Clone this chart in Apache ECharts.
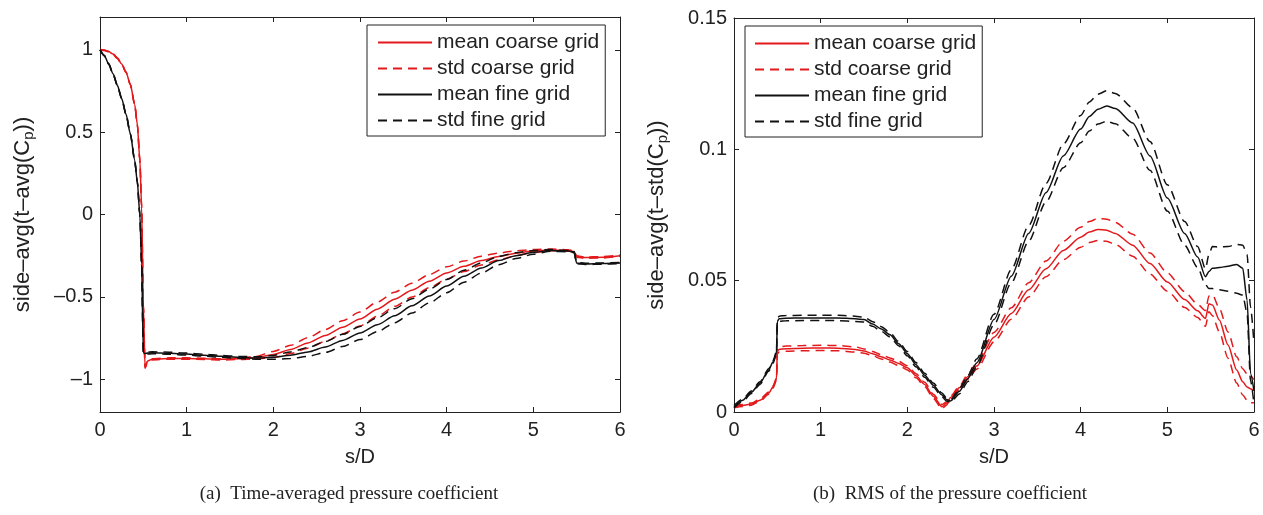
<!DOCTYPE html>
<html><head><meta charset="utf-8">
<script src="https://cdn.jsdelivr.net/npm/echarts@6/dist/echarts.min.js"></script>
<style>html,body{margin:0;padding:0;background:#fff}#c{width:1263px;height:515px}</style>
</head><body><div id="c"></div>
<script>
// ---- tick labels ----
const xTicks = [0, 1, 2, 3, 4, 5, 6];
const yTicksA = [-1, -0.5, 0, 0.5, 1];
const yTicksB = [0, 0.05, 0.1, 0.15];
const legendNames = ['mean coarse grid', 'std coarse grid', 'mean fine grid', 'std fine grid'];

// ---- panel (a): time-averaged Cp ----
const sA = [0,0.05,0.1,0.15,0.2,0.25,0.3,0.35,0.4,0.43,0.46,0.48,0.5,0.52,0.55,0.6,0.8,1.0,1.2,1.4,1.6,1.8,2.0,2.2,2.4,2.6,2.8,3.0,3.2,3.4,3.6,3.8,4.0,4.2,4.4,4.6,4.8,5.0,5.2,5.4,5.47,5.5,5.6,5.8,6.0];
const meanCoarseA = [1.0,0.998,0.99,0.975,0.95,0.915,0.865,0.79,0.67,0.55,0.33,0.05,-0.55,-0.93,-0.89,-0.88,-0.875,-0.875,-0.877,-0.88,-0.877,-0.87,-0.85,-0.82,-0.78,-0.735,-0.685,-0.635,-0.575,-0.515,-0.46,-0.405,-0.355,-0.315,-0.28,-0.255,-0.235,-0.222,-0.215,-0.218,-0.225,-0.255,-0.262,-0.26,-0.25];
const stdCoarseUpperA = [1.002,1.0,0.992,0.977,0.952,0.917,0.867,0.792,0.672,0.552,0.332,0.052,-0.546,-0.926,-0.886,-0.876,-0.871,-0.871,-0.873,-0.876,-0.873,-0.862,-0.832,-0.795,-0.748,-0.699,-0.645,-0.593,-0.532,-0.472,-0.418,-0.365,-0.318,-0.283,-0.253,-0.234,-0.22,-0.213,-0.21,-0.214,-0.221,-0.251,-0.258,-0.256,-0.246];
const stdCoarseLowerA = [0.998,0.996,0.988,0.973,0.948,0.913,0.863,0.788,0.668,0.548,0.328,0.048,-0.554,-0.934,-0.894,-0.884,-0.879,-0.879,-0.881,-0.884,-0.881,-0.878,-0.868,-0.845,-0.812,-0.771,-0.725,-0.677,-0.618,-0.558,-0.502,-0.445,-0.392,-0.347,-0.307,-0.276,-0.25,-0.231,-0.22,-0.222,-0.229,-0.259,-0.266,-0.264,-0.254];
const meanFineA = [1.0,0.965,0.915,0.855,0.785,0.705,0.61,0.49,0.33,0.2,0.0,-0.3,-0.84,-0.845,-0.842,-0.84,-0.843,-0.848,-0.855,-0.862,-0.868,-0.872,-0.868,-0.855,-0.835,-0.805,-0.765,-0.72,-0.67,-0.615,-0.555,-0.495,-0.435,-0.375,-0.325,-0.28,-0.25,-0.23,-0.218,-0.222,-0.228,-0.295,-0.3,-0.298,-0.295];
const stdFineUpperA = [1.002,0.967,0.917,0.857,0.787,0.707,0.612,0.492,0.332,0.202,0.002,-0.298,-0.834,-0.839,-0.836,-0.834,-0.837,-0.842,-0.849,-0.856,-0.862,-0.865,-0.856,-0.835,-0.808,-0.772,-0.728,-0.68,-0.628,-0.572,-0.512,-0.453,-0.395,-0.339,-0.294,-0.255,-0.232,-0.219,-0.212,-0.218,-0.224,-0.291,-0.296,-0.294,-0.291];
const stdFineLowerA = [0.998,0.963,0.913,0.853,0.783,0.703,0.608,0.488,0.328,0.198,-0.002,-0.302,-0.846,-0.851,-0.848,-0.846,-0.849,-0.854,-0.861,-0.868,-0.874,-0.879,-0.88,-0.875,-0.862,-0.838,-0.802,-0.76,-0.712,-0.658,-0.598,-0.537,-0.475,-0.411,-0.356,-0.305,-0.268,-0.241,-0.224,-0.226,-0.232,-0.299,-0.304,-0.302,-0.299];

// ---- panel (b): RMS of Cp ----
const sB = [0,0.1,0.2,0.3,0.4,0.45,0.49,0.5,0.52,0.6,0.8,1.0,1.2,1.4,1.5,1.6,1.7,1.8,1.9,2.0,2.1,2.2,2.3,2.4,2.45,2.5,2.6,2.7,2.8,3.0,3.2,3.4,3.6,3.8,4.0,4.1,4.2,4.3,4.4,4.6,4.8,5.0,5.2,5.35,5.44,5.48,5.52,5.6,5.7,5.8,5.87,5.92,5.96,6.0];
const meanCoarseB = [0.002,0.0025,0.003,0.0045,0.0072,0.0095,0.0125,0.0232,0.0238,0.0241,0.0243,0.0244,0.0243,0.0238,0.0232,0.0222,0.021,0.0198,0.0185,0.0168,0.0138,0.0105,0.006,0.002,0.0032,0.0055,0.0092,0.0135,0.0175,0.0285,0.0375,0.0465,0.0545,0.0615,0.0665,0.0685,0.0695,0.0692,0.068,0.0635,0.0565,0.0495,0.0428,0.0385,0.0356,0.0412,0.0407,0.035,0.0255,0.016,0.0115,0.0095,0.0088,0.0083];
const stdCoarseUpperB = [0.0024,0.0029,0.0034,0.0049,0.0076,0.0099,0.0129,0.0242,0.0248,0.0251,0.0253,0.0254,0.0253,0.0248,0.024,0.023,0.0218,0.0206,0.0193,0.0176,0.0146,0.0113,0.0068,0.0028,0.0038,0.0061,0.0098,0.0145,0.0187,0.0303,0.0397,0.0492,0.0575,0.065,0.0703,0.0725,0.0737,0.0734,0.0722,0.0677,0.0605,0.053,0.0458,0.041,0.0386,0.0442,0.0447,0.0395,0.0305,0.021,0.0165,0.0145,0.0138,0.0123];
const stdCoarseLowerB = [0.0016,0.0021,0.0026,0.0041,0.0068,0.0091,0.0121,0.0222,0.0228,0.0231,0.0233,0.0234,0.0233,0.0228,0.0224,0.0214,0.0202,0.019,0.0177,0.016,0.013,0.0097,0.0052,0.0012,0.0026,0.0049,0.0086,0.0125,0.0163,0.0267,0.0353,0.0438,0.0515,0.058,0.0627,0.0645,0.0653,0.065,0.0638,0.0593,0.0525,0.046,0.0398,0.036,0.0326,0.0382,0.0367,0.0305,0.0205,0.011,0.0065,0.0045,0.0035,0.0035];
const meanFineB = [0.002,0.0045,0.0075,0.011,0.016,0.019,0.0225,0.0345,0.0355,0.0357,0.0358,0.0358,0.0358,0.0355,0.0352,0.0335,0.0316,0.0294,0.026,0.0222,0.018,0.014,0.0102,0.0065,0.0048,0.0042,0.0079,0.0128,0.0187,0.0352,0.0517,0.068,0.0835,0.0975,0.1077,0.1125,0.1153,0.1165,0.1155,0.11,0.0975,0.0815,0.068,0.059,0.0515,0.0535,0.0547,0.055,0.0555,0.0562,0.0547,0.0426,0.0147,0.008];
const stdFineUpperB = [0.0025,0.005,0.008,0.0115,0.0165,0.0195,0.023,0.0355,0.0365,0.0367,0.0368,0.0368,0.0368,0.0365,0.0361,0.0344,0.0325,0.0302,0.0268,0.023,0.0188,0.0148,0.011,0.0072,0.0054,0.0047,0.0089,0.014,0.0202,0.0372,0.0542,0.071,0.087,0.102,0.1129,0.118,0.121,0.1223,0.1213,0.1158,0.103,0.0865,0.0725,0.063,0.0545,0.06,0.063,0.0628,0.063,0.0638,0.0635,0.06,0.04,0.026];
const stdFineLowerB = [0.0015,0.004,0.007,0.0105,0.0155,0.0185,0.022,0.0335,0.0345,0.0347,0.0348,0.0348,0.0348,0.0345,0.0343,0.0326,0.0307,0.0286,0.0252,0.0214,0.0172,0.0132,0.0094,0.0058,0.0042,0.0037,0.0069,0.0116,0.0172,0.0332,0.0492,0.065,0.08,0.093,0.1025,0.107,0.1096,0.1107,0.1097,0.1042,0.092,0.0765,0.0635,0.055,0.0485,0.047,0.047,0.0465,0.046,0.0452,0.0445,0.0376,0.012,0.003];

// ---- styling ----
const RED = '#e3191c', BLACK = '#111111', AXIS = '#222222', TXT = '#222222';
const SANS = '"Liberation Sans", Arial, Helvetica, sans-serif';
const SERIF = '"Liberation Serif", "Times New Roman", serif';
const DASH = [9, 6];
const dashFmt = v => String(v).replace('-', '\u2013');

function pairs(xs, ys) { return xs.map((x, i) => [x, ys[i]]); }
function line(name, xs, ys, color, dashed, axis) {
  return {
    type: 'line', name, xAxisIndex: axis, yAxisIndex: axis,
    data: pairs(xs, ys), showSymbol: false, symbol: 'none',
    smooth: 0.25, smoothMonotone: 'x', animation: false, silent: true,
    lineStyle: { color, width: 1.5, type: dashed ? DASH : 'solid' },
    itemStyle: { color }
  };
}
function xAx(grid, pos, show) {
  return {
    type: 'value', gridIndex: grid, position: pos, min: xTicks[0], max: xTicks[xTicks.length - 1], interval: 1,
    axisLine: { show: true, onZero: false, lineStyle: { color: AXIS, width: 1 } },
    axisTick: { show: true, inside: true, length: 5, lineStyle: { color: AXIS } },
    axisLabel: { show: show, margin: 8, fontSize: 20, color: TXT, fontFamily: SANS },
    splitLine: { show: false },
    name: show ? 's/D' : '', nameLocation: 'middle', nameGap: 35,
    nameTextStyle: { fontSize: 20, color: TXT, fontFamily: SANS }
  };
}
function yAx(grid, pos, show, lo, hi, ticks, name) {
  return {
    type: 'value', gridIndex: grid, position: pos, min: lo, max: hi,
    axisLine: { show: true, onZero: false, lineStyle: { color: AXIS, width: 1 } },
    axisTick: { show: true, inside: true, length: 5, customValues: ticks, lineStyle: { color: AXIS } },
    axisLabel: { show: show, margin: 7, fontSize: 20, color: TXT, fontFamily: SANS, customValues: ticks, formatter: dashFmt },
    splitLine: { show: false },
    name: show ? name : '', nameLocation: 'middle', nameRotate: 90, nameGap: 64,
    nameTextStyle: { fontSize: 22, color: TXT, fontFamily: SANS, lineHeight: 27,
      rich: { sub: { fontSize: 15, lineHeight: 15, verticalAlign: 'bottom', fontFamily: SANS, color: TXT } } }
  };
}
function legend(left, top, pad) {
  return {
    selectedMode: false, orient: 'vertical', left, top,
    itemWidth: 54, itemHeight: 20, itemGap: 5, padding: pad,
    borderColor: AXIS, borderWidth: 1, backgroundColor: '#ffffff',
    itemStyle: { color: 'rgba(0,0,0,0)', opacity: 0, borderWidth: 0 },
    textStyle: { fontSize: 21, color: TXT, fontFamily: SANS, lineHeight: 20 },
    data: legendNames
  };
}

const option = {
  backgroundColor: '#ffffff',
  animation: false,
  grid: [
    { left: 100, top: 17, width: 520, height: 395 },
    { left: 734, top: 18, width: 520, height: 394 }
  ],
  xAxis: [ xAx(0, 'bottom', true), xAx(0, 'top', false), xAx(1, 'bottom', true), xAx(1, 'top', false) ],
  yAxis: [
    yAx(0, 'left', true, -1.2, 1.2, yTicksA, 'side\u2013avg(t\u2013avg(C{sub|p}))'),
    yAx(0, 'right', false, -1.2, 1.2, yTicksA, ''),
    yAx(1, 'left', true, 0, 0.15, yTicksB, 'side\u2013avg(t\u2013std(C{sub|p}))'),
    yAx(1, 'right', false, 0, 0.15, yTicksB, '')
  ],
  legend: [ legend(367, 25, [7, 6, 5, 10]), legend(745, 26, [7, 6, 5, 9]) ],
  series: [
    line('mean coarse grid', sA, meanCoarseA, RED, false, 0),
    line('std coarse grid', sA, stdCoarseUpperA, RED, true, 0),
    line('std coarse grid', sA, stdCoarseLowerA, RED, true, 0),
    line('mean fine grid', sA, meanFineA, BLACK, false, 0),
    line('std fine grid', sA, stdFineUpperA, BLACK, true, 0),
    line('std fine grid', sA, stdFineLowerA, BLACK, true, 0),
    line('mean coarse grid', sB, meanCoarseB, RED, false, 2),
    line('std coarse grid', sB, stdCoarseUpperB, RED, true, 2),
    line('std coarse grid', sB, stdCoarseLowerB, RED, true, 2),
    line('mean fine grid', sB, meanFineB, BLACK, false, 2),
    line('std fine grid', sB, stdFineUpperB, BLACK, true, 2),
    line('std fine grid', sB, stdFineLowerB, BLACK, true, 2)
  ],
  graphic: [
    { type: 'text', x: 349, y: 494, style: { text: '(a)\u2002Time-averaged pressure coefficient', align: 'center', verticalAlign: 'middle', font: '19px ' + SERIF, fill: TXT } },
    { type: 'text', x: 950, y: 494, style: { text: '(b)\u2002RMS of the pressure coefficient', align: 'center', verticalAlign: 'middle', font: '19px ' + SERIF, fill: TXT } }
  ]
};
const chart = echarts.init(document.getElementById('c'), null, { renderer: 'canvas' });
chart.setOption(option);
</script>
</body></html>
